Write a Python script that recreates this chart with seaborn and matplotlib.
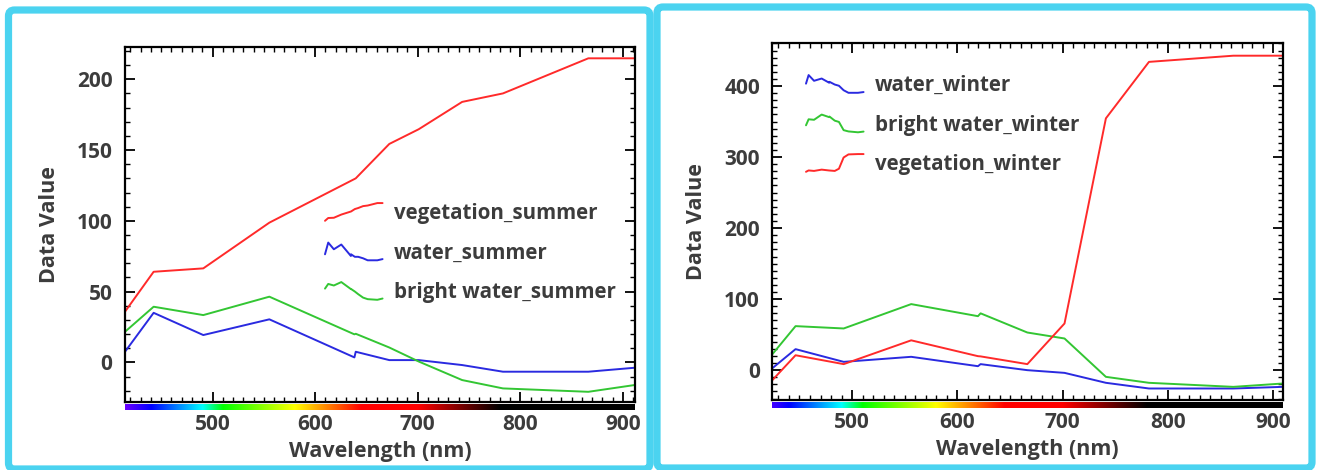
import matplotlib
matplotlib.use("Agg")
import numpy as np
import pandas as pd
import seaborn as sns
import matplotlib.pyplot as plt
from matplotlib.legend_handler import HandlerBase
from matplotlib.lines import Line2D
from matplotlib.patches import FancyBboxPatch
from matplotlib.ticker import MultipleLocator

# ---------------- data ----------------
summer_wl = [414.7, 442.6, 491.0, 555.4, 638.3, 639.6, 672.3, 701.0, 743.3, 783.1, 866.3, 911.5]
vegetation_summer = [35.8, 64.0, 66.4, 98.7, 129.5, 130.0, 154.3, 164.7, 184.0, 190.0, 214.8, 214.8]
water_summer = [7.5, 35.0, 19.3, 30.4, 3.5, 7.5, 1.6, 1.6, -1.9, -6.6, -6.6, -3.8]
bright_water_summer = [21.6, 39.3, 33.4, 46.4, 19.8, 20.2, 10.5, 0.6, -12.5, -18.4, -20.8, -16.0]

winter_wl = [424.3, 446.3, 492.0, 556.1, 619.5, 622.0, 666.4, 701.7, 741.0, 781.9, 862.0, 908.9]
water_winter = [2.8, 29.6, 11.7, 18.8, 5.6, 8.5, 0.0, -3.8, -17.8, -25.8, -25.8, -23.5]
bright_water_winter = [22.5, 62.0, 58.7, 93.0, 76.0, 80.0, 53.0, 44.6, -9.4, -17.8, -23.5, -18.8]
vegetation_winter = [-14.0, 21.0, 8.5, 42.0, 19.7, 19.4, 8.5, 65.7, 354.5, 434.0, 442.7, 442.7]

summer_labels = ["vegetation_summer", "water_summer", "bright water_summer"]
winter_labels = ["water_winter", "bright water_winter", "vegetation_winter"]
x_ticks = [500, 600, 700, 800, 900]
summer_y_ticks = [0, 50, 100, 150, 200]
winter_y_ticks = [0, 100, 200, 300, 400]

# ---------------- style ----------------
RED, BLUE, GREEN = "#ff2a2a", "#2a2ae0", "#33c633"
TEXT = "#3c3c3c"
CYAN = "#4bd3f0"

sns.set_theme(style="white")
plt.rcParams["font.family"] = ["Open Sans", "DejaVu Sans"]
plt.rcParams["font.weight"] = "bold"
plt.rcParams["axes.labelweight"] = "bold"

summer_df = pd.DataFrame({
    "wl": summer_wl * 3,
    "value": vegetation_summer + water_summer + bright_water_summer,
    "series": [s for s in summer_labels for _ in summer_wl],
})
winter_df = pd.DataFrame({
    "wl": winter_wl * 3,
    "value": water_winter + bright_water_winter + vegetation_winter,
    "series": [s for s in winter_labels for _ in winter_wl],
})


class SpectrumIconHandler(HandlerBase):
    """Legend glyph = miniature of the plotted spectrum (ENVI style)."""

    def create_artists(self, legend, orig_handle, xdescent, ydescent, width,
                       height, fontsize, trans):
        x = np.asarray(orig_handle.get_xdata(), float)
        y = np.asarray(orig_handle.get_ydata(), float)
        xn = (x - x.min()) / (x.max() - x.min())
        yn = (y - y.min()) / (y.max() - y.min())
        ln = Line2D(-xdescent + xn * width, -ydescent + yn * height,
                    color=orig_handle.get_color(), lw=orig_handle.get_linewidth())
        ln.set_transform(trans)
        return [ln]


def wl_to_rgb(wl):
    if wl < 440:
        r, g, b = -(wl - 440) / 60.0, 0.0, 1.0
    elif wl < 490:
        r, g, b = 0.0, (wl - 440) / 50.0, 1.0
    elif wl < 510:
        r, g, b = 0.0, 1.0, -(wl - 510) / 20.0
    elif wl < 580:
        r, g, b = (wl - 510) / 70.0, 1.0, 0.0
    elif wl < 645:
        r, g, b = 1.0, -(wl - 645) / 65.0, 0.0
    elif wl < 700:
        r, g, b = 1.0, 0.0, 0.0
    elif wl < 780:
        r, g, b = 1.0 - (wl - 700) / 80.0, 0.0, 0.0
    else:
        r, g, b = 0.0, 0.0, 0.0
    return (max(r, 0), max(g, 0), max(b, 0))


W, H = 1317, 470
fig = plt.figure(figsize=(W / 100, H / 100), dpi=100)
fig.patch.set_facecolor("white")


def px_axes(x0, x1, ytop, ybot):
    return fig.add_axes([x0 / W, 1 - ybot / H, (x1 - x0) / W, (ybot - ytop) / H])


def style_axes(ax, xlim, ylim, yticks, ymin_step):
    ax.set_xlim(*xlim)
    ax.set_ylim(*ylim)
    ax.set_xticks(x_ticks)
    ax.set_yticks(yticks)
    ax.xaxis.set_minor_locator(MultipleLocator(10))
    ax.yaxis.set_minor_locator(MultipleLocator(ymin_step))
    ax.tick_params(which="both", direction="in", top=True, right=True,
                   bottom=True, left=True, color="black")
    ax.tick_params(which="major", length=7, width=1.3, labelsize=15,
                   labelcolor=TEXT, pad=9)
    ax.tick_params(which="minor", length=3.5, width=1.0)
    for sp in ax.spines.values():
        sp.set_color("black")
        sp.set_linewidth(1.6)
    ax.set_xlabel("Wavelength (nm)", fontsize=15.5, color=TEXT, labelpad=4,
                  fontweight="bold")
    ax.set_ylabel("Data Value", fontsize=15.5, color=TEXT, labelpad=12,
                  fontweight="bold")
    # visible-spectrum strip under the x axis
    strip = ax.inset_axes([0, -0.023, 1, 0.017])
    xs = np.linspace(xlim[0], xlim[1], 600)
    img = np.array([[wl_to_rgb(w) for w in xs]])
    strip.imshow(img, aspect="auto", extent=[xlim[0], xlim[1], 0, 1])
    strip.set_xlim(*xlim)
    strip.set_axis_off()


legend_kw = dict(loc="upper left", frameon=False, fontsize=14.8, handlelength=2.8,
                 handleheight=0.95, handletextpad=0.55, labelspacing=0.9,
                 borderpad=0, borderaxespad=0, labelcolor=TEXT,
                 handler_map={Line2D: SpectrumIconHandler()})

# ---------------- left panel: summer ----------------
ax1 = px_axes(125, 634.7, 46.7, 402)
sns.lineplot(data=summer_df, x="wl", y="value", hue="series",
             hue_order=summer_labels, palette=[RED, BLUE, GREEN],
             estimator=None, sort=False, legend=False, linewidth=1.4, ax=ax1)
style_axes(ax1, (414.7, 911.5), (-28, 223), summer_y_ticks, 10)
ax1.legend(list(ax1.lines[:3]), summer_labels,
           bbox_to_anchor=((325 - 125) / 509.7, (402 - 203) / 355.3), **legend_kw)

# ---------------- right panel: winter ----------------
ax2 = px_axes(772.4, 1282.7, 42.7, 400)
sns.lineplot(data=winter_df, x="wl", y="value", hue="series",
             hue_order=winter_labels, palette=[BLUE, GREEN, RED],
             estimator=None, sort=False, legend=False, linewidth=1.4, ax=ax2)
style_axes(ax2, (424.3, 908.9), (-42, 461), winter_y_ticks, 10)
ax2.legend(list(ax2.lines[:3]), winter_labels,
           bbox_to_anchor=((806 - 772.4) / 510.3, (400 - 75) / 357.3), **legend_kw)

# ---------------- cyan screenshot frames ----------------
for (x0, x1, yt, yb) in [(8.5, 650, 10, 469), (657, 1312, 7, 468)]:
    box = FancyBboxPatch((x0 / 100, (H - yb) / 100), (x1 - x0) / 100, (yb - yt) / 100,
                         boxstyle="round,pad=0,rounding_size=0.06",
                         transform=fig.dpi_scale_trans, facecolor="none",
                         edgecolor=CYAN, linewidth=5.2, zorder=10)
    fig.add_artist(box)

fig.savefig("out.png", dpi=100, facecolor="white")
